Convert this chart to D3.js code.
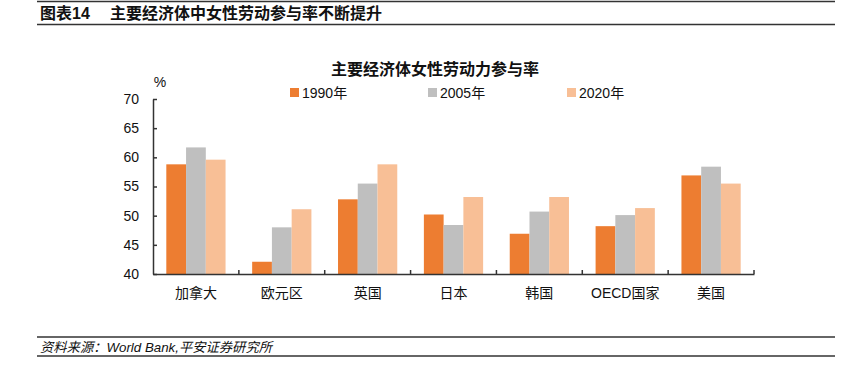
<!DOCTYPE html>
<html><head><meta charset="utf-8">
<script src="https://cdn.jsdelivr.net/npm/d3@7"></script>
<style>
body{margin:0;background:#fff;}
text{font-family:"Liberation Sans","Noto Sans CJK SC",sans-serif;}
</style></head>
<body><svg id="c" width="848" height="382"></svg>
<script>
const categories = ["加拿大","欧元区","英国","日本","韩国","OECD国家","美国"];
const seriesNames = ["1990年","2005年","2020年"];
const v1990 = [58.8, 42.1, 52.8, 50.2, 46.9, 48.2, 56.9];
const v2005 = [61.7, 48.0, 55.5, 48.4, 50.7, 50.1, 58.4];
const v2020 = [59.6, 51.1, 58.8, 53.2, 53.2, 51.3, 55.5];
const yTicks = [40,45,50,55,60,65,70];
const colors = ["#ED7D31","#BFBFBF","#F8BF96"];
const seriesVals = [v1990, v2005, v2020];

const svg = d3.select("#c");
// header
svg.append("line").attr("x1",37).attr("x2",835).attr("y1",1.5).attr("y2",1.5).attr("stroke","#333").attr("stroke-width",1.5);
svg.append("line").attr("x1",37).attr("x2",835).attr("y1",24.5).attr("y2",24.5).attr("stroke","#333").attr("stroke-width",1.5);
svg.append("text").attr("x",40).attr("y",19).attr("font-size",16).attr("font-weight","bold").attr("fill","#111").text("图表14");
svg.append("text").attr("x",110).attr("y",19).attr("font-size",16).attr("font-weight","bold").attr("fill","#111").text("主要经济体中女性劳动参与率不断提升");
// footer
svg.append("line").attr("x1",37).attr("x2",835).attr("y1",337).attr("y2",337).attr("stroke","#333").attr("stroke-width",1.5);
svg.append("line").attr("x1",37).attr("x2",835).attr("y1",356).attr("y2",356).attr("stroke","#333").attr("stroke-width",1.5);
svg.append("text").attr("x",40).attr("y",352).attr("font-size",13.3).attr("font-style","italic").attr("fill","#111").text("资料来源：World Bank,平安证券研究所");

// chart title
svg.append("text").attr("x",435).attr("y",75).attr("text-anchor","middle").attr("font-size",16).attr("font-weight","bold").attr("fill","#111").text("主要经济体女性劳动力参与率");
svg.append("text").attr("x",160).attr("y",87).attr("text-anchor","middle").attr("font-size",14).attr("fill","#111").text("%");

const x0 = d3.scaleBand().domain(categories).range([153,754]).paddingInner(0.31).paddingOuter(0.155);
const x1 = d3.scaleBand().domain(seriesNames).range([0,x0.bandwidth()]);
const y = d3.scaleLinear().domain([40,70]).range([274,99]);

// bars
const g = svg.append("g");
seriesNames.forEach((s,si)=>{
  g.selectAll(null).data(categories).enter().append("rect")
   .attr("x",c=>x0(c)+x1(s))
   .attr("width",x1.bandwidth())
   .attr("y",(c,i)=>y(seriesVals[si][i]))
   .attr("height",(c,i)=>y(40)-y(seriesVals[si][i]))
   .attr("fill",colors[si]);
});

// y axis
const yAxis = svg.append("g").attr("transform","translate(153,0)")
  .call(d3.axisLeft(y).tickValues(yTicks).tickSize(-4).tickPadding(14).tickSizeOuter(0));
yAxis.selectAll("text").attr("font-size",14).attr("fill","#111").style("font-family",'"Liberation Sans",sans-serif');
yAxis.selectAll("line,path").attr("stroke","#333").attr("stroke-width",1.5);

// x axis
const xAxis = svg.append("g").attr("transform","translate(0,274)")
  .call(d3.axisBottom(x0).tickSize(0).tickPadding(14).tickSizeOuter(0));
xAxis.selectAll("text").attr("font-size",14).attr("fill","#111");
xAxis.select("path").attr("stroke","#333").attr("stroke-width",1.5);
const bounds = categories.map(c=>x0(c)-x0.step()*x0.paddingInner()/2).slice(1).concat([754]);
xAxis.selectAll("line.bt").data(bounds).enter().append("line").attr("class","bt")
  .attr("x1",d=>d).attr("x2",d=>d).attr("y1",0).attr("y2",-4).attr("stroke","#333").attr("stroke-width",1.5);

// legend
const legX = [290, 428, 567];
seriesNames.forEach((s,i)=>{
  svg.append("rect").attr("x",legX[i]).attr("y",88).attr("width",9).attr("height",9).attr("fill",colors[i]);
  svg.append("text").attr("x",legX[i]+12).attr("y",98).attr("font-size",14).attr("fill","#111").text(s);
});
</script></body></html>
